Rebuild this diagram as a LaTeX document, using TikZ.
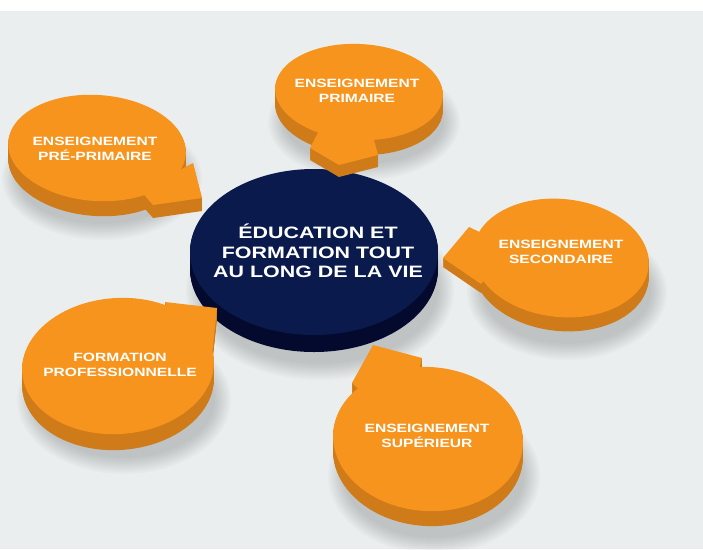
\documentclass[tikz,border=0pt]{standalone}
\usepackage{fontspec}
\usepackage{tikz}
\newfontfamily\discfont{Liberation Sans}[FakeStretch=1.3]
\definecolor{bggray}{HTML}{EBEEEF}
\definecolor{discorange}{HTML}{F7941E}
\definecolor{discorangeside}{HTML}{D07B1A}
\definecolor{discnavy}{HTML}{0A1A4C}
\definecolor{discnavyside}{HTML}{040A2E}

\begin{document}
\begin{tikzpicture}[x=1pt,y=-1pt,
    shade/.style={fill=black,opacity=0.018},
    otop/.style={fill=discorange},
    oside/.style={fill=discorangeside},
    ntop/.style={fill=discnavy},
    nside/.style={fill=discnavyside},
    smalltxt/.style={text=white,align=center,font=\discfont\bfseries\fontsize{12}{15}\selectfont},
    bigtxt/.style={text=white,align=center,font=\discfont\bfseries\fontsize{16.5}{19.5}\selectfont}]
    \useasboundingbox (0,0) rectangle (703,549);
    \fill[white] (0,0) rectangle (703,549);
    \fill[bggray] (0,11) rectangle (703,549);

    % soft shadows
    \foreach \s in {0,2,...,16} {
        \fill[shade] (102,178) ellipse [x radius=84+\s, y radius=46+\s];
        \fill[shade] (364,122) ellipse [x radius=80+\s, y radius=42+\s];
        \fill[shade] (320,290) ellipse [x radius=118+\s, y radius=74+\s];
        \fill[shade] (567,292) ellipse [x radius=84+\s, y radius=52+\s];
        \fill[shade] (124,400) ellipse [x radius=91+\s, y radius=58+\s];
        \fill[shade] (434,476) ellipse [x radius=90+\s, y radius=62+\s];
    }

    % centre
    \foreach \k in {1,...,17}
        \fill[nside,shift={(0,\k)}] (314,252) ellipse [x radius=124, y radius=83];
    \fill[ntop] (314,252) ellipse [x radius=124, y radius=83];
    \node[bigtxt] (centre) at (318,251) {ÉDUCATION ET\\FORMATION TOUT\\AU LONG DE LA VIE};

    % pre-primaire
    \foreach \k in {1,...,15}
        \fill[oside,shift={(0,\k)}] (97,148) ellipse [x radius=89, y radius=53, rotate=-4];
    \foreach \k in {1,...,13}
        \fill[oside,shift={(0,\k)}] (165,178) -- (193,163) -- (202,198) -- (153,205) -- (140,190) -- cycle;
    \fill[otop] (165,178) -- (193,163) -- (202,198) -- (153,205) -- (140,190) -- cycle;
    \fill[otop] (97,148) ellipse [x radius=89, y radius=53, rotate=-4];
    \node[smalltxt] (preprim) at (95,149) {ENSEIGNEMENT\\PRÉ-PRIMAIRE};

    % primaire
    \foreach \k in {1,...,15}
        \fill[oside,shift={(0,\k)}] (359,92) ellipse [x radius=84, y radius=48, rotate=-3];
    \foreach \k in {1,...,12}
        \fill[oside,shift={(0,\k)}] (322,125) -- (310,148) -- (339,165) -- (378,155) -- (372,132) -- cycle;
    \fill[otop] (322,125) -- (310,148) -- (339,165) -- (378,155) -- (372,132) -- cycle;
    \fill[otop] (359,92) ellipse [x radius=84, y radius=48, rotate=-3];
    \node[smalltxt] (prim) at (357,91) {ENSEIGNEMENT\\PRIMAIRE};

    % secondaire
    \foreach \k in {1,...,14}
        \fill[oside,shift={(0,\k)}] (561,258) ellipse [x radius=88, y radius=59, rotate=-6];
    \foreach \k in {1,...,9}
        \fill[oside,shift={(0,\k)}] (492,238) -- (469,227) -- (443,258) -- (481,284) -- (496,268) -- cycle;
    \fill[otop] (492,238) -- (469,227) -- (443,258) -- (481,284) -- (496,268) -- cycle;
    \fill[otop] (561,258) ellipse [x radius=88, y radius=59, rotate=-6];
    \node[smalltxt] (second) at (561,252) {ENSEIGNEMENT\\SECONDAIRE};

    % formation professionnelle
    \foreach \k in {1,...,16}
        \fill[oside,shift={(0,\k)}] (118,366) ellipse [x radius=96, y radius=68, rotate=4];
    \foreach \k in {1,...,10}
        \fill[oside,shift={(0,\k)}] (165,302) -- (217,308) -- (212,355) -- (180,340) -- cycle;
    \fill[otop] (165,302) -- (217,308) -- (212,355) -- (180,340) -- cycle;
    \fill[otop] (118,366) ellipse [x radius=96, y radius=68, rotate=4];
    \node[smalltxt] (formpro) at (120,365) {FORMATION\\PROFESSIONNELLE};

    % superieur
    \foreach \k in {1,...,15}
        \fill[oside,shift={(0,\k)}] (428,439) ellipse [x radius=95, y radius=72, rotate=-4];
    \foreach \k in {1,...,12}
        \fill[oside,shift={(0,\k)}] (373,345) -- (422,358) -- (415,385) -- (365,395) -- (352,383) -- cycle;
    \fill[otop] (373,345) -- (422,358) -- (415,385) -- (365,395) -- (352,383) -- cycle;
    \fill[otop] (428,439) ellipse [x radius=95, y radius=72, rotate=-4];
    \node[smalltxt] (superieur) at (427,436) {ENSEIGNEMENT\\SUPÉRIEUR};
\end{tikzpicture}
\end{document}
